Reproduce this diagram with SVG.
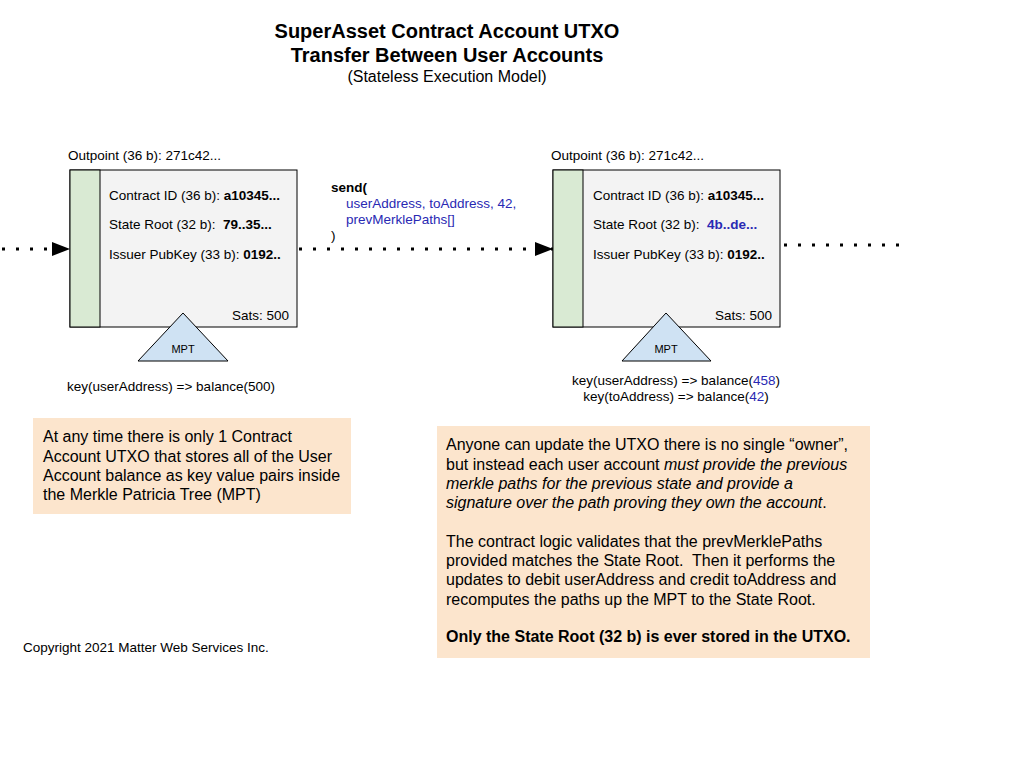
<svg xmlns="http://www.w3.org/2000/svg" width="1024" height="768" viewBox="0 0 1024 768">
<style>
text{font-family:"Liberation Sans",Arial,sans-serif;fill:#000;white-space:pre}
.t{font-size:20px;font-weight:bold}
.s{font-size:13.5px}
.n{font-size:16px}
.b{font-weight:bold}
.blue{fill:#2929b3}
.box{fill:#f3f3f3;stroke:#000;stroke-width:1}
.strip{fill:#d9ead3;stroke:#000;stroke-width:1}
.tri{fill:#cfe2f3;stroke:#000;stroke-width:1}
.dot{stroke:#000;stroke-width:3;stroke-dasharray:3 11;fill:none}
.note{fill:#fce5cd}
</style>
<defs>
<marker id="ah" markerWidth="18" markerHeight="14" refX="18" refY="7" orient="auto" markerUnits="userSpaceOnUse">
<path d="M0,0 L18,7 L0,14 Z" fill="#000"/>
</marker>
</defs>
<rect width="1024" height="768" fill="#fff"/>
<g id="title">
<text class="t" x="447" y="38" text-anchor="middle">SuperAsset Contract Account UTXO</text>
<text class="t" x="447" y="62" text-anchor="middle">Transfer Between User Accounts</text>
<text x="447" y="82" text-anchor="middle" font-size="16">(Stateless Execution Model)</text>
</g>
<g id="connectors">
<line class="dot" x1="2" y1="249" x2="70" y2="249" marker-end="url(#ah)"/>
<line class="dot" x1="299" y1="249" x2="553" y2="249" marker-end="url(#ah)"/>
<line class="dot" x1="784" y1="245" x2="910" y2="245"/>
</g>
<g id="utxo1">
<text class="s" x="68" y="160">Outpoint (36 b): 271c42...</text>
<rect class="box" x="70" y="170" width="227" height="157"/>
<rect class="strip" x="70" y="170" width="30" height="157"/>
<text class="s" x="109" y="200">Contract ID (36 b): <tspan class="b">a10345...</tspan></text>
<text class="s" x="109" y="229">State Root (32 b):  <tspan class="b">79..35...</tspan></text>
<text class="s" x="109" y="259">Issuer PubKey (33 b): <tspan class="b">0192..</tspan></text>
<text class="s" x="289" y="320" text-anchor="end">Sats: 500</text>
</g>
<g id="mpt1">
<polygon class="tri" points="183,313 228,361 138,361"/>
<text x="183" y="353" font-size="11" text-anchor="middle">MPT</text>
<text class="s" x="171" y="391" text-anchor="middle">key(userAddress) =&gt; balance(500)</text>
</g>
<g id="send">
<text class="s b" x="331" y="192">send(</text>
<text class="s blue" x="346" y="208">userAddress, toAddress, 42,</text>
<text class="s blue" x="346" y="224">prevMerklePaths[]</text>
<text class="s" x="331" y="240">)</text>
</g>
<g id="utxo2">
<text class="s" x="551" y="160">Outpoint (36 b): 271c42...</text>
<rect class="box" x="553" y="170" width="227" height="157"/>
<rect class="strip" x="553" y="170" width="30" height="157"/>
<text class="s" x="593" y="200">Contract ID (36 b): <tspan class="b">a10345...</tspan></text>
<text class="s" x="593" y="229">State Root (32 b):  <tspan class="b blue">4b..de...</tspan></text>
<text class="s" x="593" y="259">Issuer PubKey (33 b): <tspan class="b">0192..</tspan></text>
<text class="s" x="772" y="320" text-anchor="end">Sats: 500</text>
</g>
<g id="mpt2">
<polygon class="tri" points="666,313 711,361 622,361"/>
<text x="666" y="353" font-size="11" text-anchor="middle">MPT</text>
<text class="s" x="676" y="385" text-anchor="middle">key(userAddress) =&gt; balance(<tspan class="blue">458</tspan>)</text>
<text class="s" x="676" y="401" text-anchor="middle">key(toAddress) =&gt; balance(<tspan class="blue">42</tspan>)</text>
</g>
<g id="note1">
<rect class="note" x="33" y="418" width="318" height="96"/>
<text class="n" x="43" y="442">At any time there is only 1 Contract</text>
<text class="n" x="43" y="462">Account UTXO that stores all of the User</text>
<text class="n" x="43" y="481">Account balance as key value pairs inside</text>
<text class="n" x="43" y="500">the Merkle Patricia Tree (MPT)</text>
</g>
<g id="note2">
<rect class="note" x="437" y="426" width="433" height="232"/>
<text class="n" x="446" y="450">Anyone can update the UTXO there is no single “owner”,</text>
<text class="n" x="446" y="470">but instead each user account <tspan font-style="italic">must provide the previous</tspan></text>
<text class="n" x="446" y="489" font-style="italic">merkle paths for the previous state and provide a</text>
<text class="n" x="446" y="508"><tspan font-style="italic">signature over the path proving they own the account</tspan>.</text>
<text class="n" x="446" y="547">The contract logic validates that the prevMerklePaths</text>
<text class="n" x="446" y="566">provided matches the State Root.  Then it performs the</text>
<text class="n" x="446" y="585">updates to debit userAddress and credit toAddress and</text>
<text class="n" x="446" y="605">recomputes the paths up the MPT to the State Root.</text>
<text class="n b" x="446" y="642">Only the State Root (32 b) is ever stored in the UTXO.</text>
</g>
<g id="copyright">
<text class="s" x="23" y="652">Copyright 2021 Matter Web Services Inc.</text>
</g>
</svg>
